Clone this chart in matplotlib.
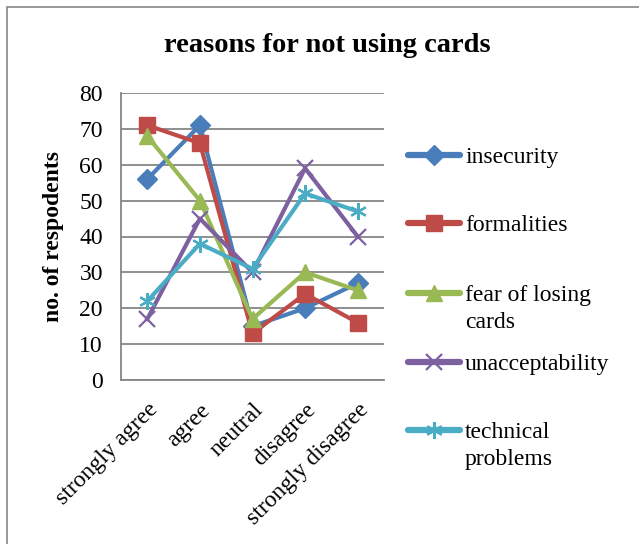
import matplotlib
matplotlib.use("Agg")
import matplotlib.pyplot as plt
from matplotlib.lines import Line2D
from matplotlib.patches import Rectangle

categories = ["strongly agree", "agree", "neutral", "disagree", "strongly disagree"]
insecurity = [56, 71, 15, 20, 27]
formalities = [71, 66, 13, 24, 16]
fear_of_losing = [68, 50, 17, 30, 25]
unacceptability = [17, 45, 30, 59, 40]
technical = [22, 38, 31, 52, 47]

series_labels = ["insecurity", "formalities", "fear of losing\ncards",
                 "unacceptability", "technical\nproblems"]
y_ticks = [0, 10, 20, 30, 40, 50, 60, 70, 80]

plt.rcParams["font.family"] = ["Liberation Serif", "DejaVu Serif"]

W, H = 639, 544
fig = plt.figure(figsize=(W / 100, H / 100), dpi=100)


def fx(px):
    return px / W


def fy(py):
    return 1 - py / H


# outer chart border (right and bottom edges run past the canvas)
fig.patches.append(Rectangle((fx(7), fy(560)), fx(700), fy(7) - fy(560),
                             transform=fig.transFigure, fill=False,
                             edgecolor="#868686", linewidth=1.2))

ax = fig.add_axes([fx(121), fy(380), fx(384) - fx(121), fy(93) - fy(380)])

styles = [
    dict(color="#4A7EBB", marker="D", markersize=10),
    dict(color="#BE4B48", marker="s", markersize=12),
    dict(color="#98B954", marker="^", markersize=12),
    dict(color="#7D60A0", marker="x", markersize=11, markeredgewidth=1.6),
    dict(color="#4BACC6", marker=(6, 2, 0), markersize=12, markeredgewidth=1.6),
]
data = [insecurity, formalities, fear_of_losing, unacceptability, technical]

x = list(range(len(categories)))
for vals, st in zip(data, styles):
    ax.plot(x, vals, linewidth=3, solid_joinstyle="round", **st)

ax.set_xlim(-0.5, len(categories) - 0.5)
ax.set_ylim(0, 80)
ax.set_yticks(y_ticks)
ax.yaxis.grid(True, color="#868686", linewidth=1.3)
ax.set_axisbelow(True)
for side in ["top", "right"]:
    ax.spines[side].set_visible(False)
for side in ["left", "bottom"]:
    ax.spines[side].set_color("#868686")
    ax.spines[side].set_linewidth(1.3)
ax.tick_params(axis="y", length=0, labelsize=17, pad=13)
ax.set_xticks(x)
ax.set_xticklabels(categories, rotation=45, ha="right", rotation_mode="anchor",
                   fontsize=17)
ax.tick_params(axis="x", length=0, pad=14)
ax.set_ylabel("no. of respodents", fontsize=17, fontweight="bold", labelpad=11)

fig.text(fx(327), fy(45), "reasons for not using cards", ha="center", va="center",
         fontsize=20.5, fontweight="bold")

# legend entries, drawn in figure coordinates
legend_rows = [155, 223, 293, 362, 430]
line_gap = 27
for lab, st, yrow in zip(series_labels, styles, legend_rows):
    fig.lines.append(Line2D([fx(408), fx(460)], [fy(yrow), fy(yrow)],
                            transform=fig.transFigure, color=st["color"],
                            linewidth=4.5, solid_capstyle="round"))
    fig.lines.append(Line2D([fx(434)], [fy(yrow)], transform=fig.transFigure,
                            linestyle="none", **st))
    for i, part in enumerate(lab.split("\n")):
        fig.text(fx(465), fy(yrow + i * line_gap), part, ha="left",
                 va="center_baseline", fontsize=17)

fig.savefig("out.png", dpi=100)
